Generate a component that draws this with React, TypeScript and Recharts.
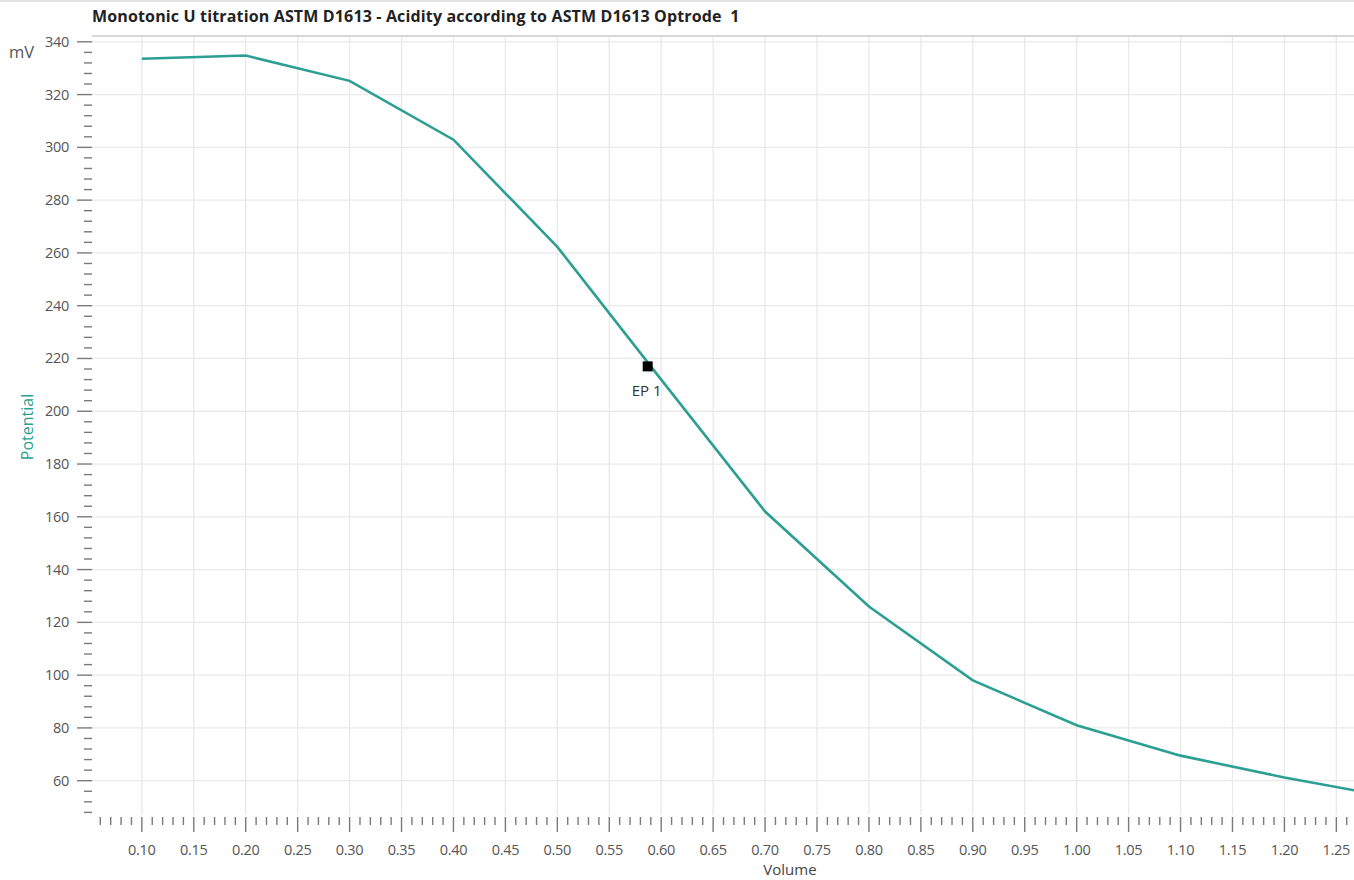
import React from 'react';
import { LineChart, Line, XAxis, YAxis, CartesianGrid, ReferenceDot, ReferenceLine, Label } from 'recharts';

const volume = [0.1, 0.2, 0.3, 0.4, 0.5, 0.6, 0.7, 0.8, 0.9, 1.0, 1.1, 1.2, 1.3];
const potential = [333.6, 334.8, 325.2, 302.9, 262.3, 212.0, 162.0, 126.0, 98.0, 81.0, 69.5, 61.2, 54.0];

const endpointVolume = 0.587;
const endpointPotential = 217;

const xMajor = [0.1, 0.15, 0.2, 0.25, 0.3, 0.35, 0.4, 0.45, 0.5, 0.55, 0.6, 0.65, 0.7, 0.75, 0.8, 0.85, 0.9, 0.95, 1.0, 1.05, 1.1, 1.15, 1.2, 1.25];
const yMajor = [60, 80, 100, 120, 140, 160, 180, 200, 220, 240, 260, 280, 300, 320, 340];

const X_DOMAIN: [number, number] = [0.052, 1.267];
const Y_DOMAIN: [number, number] = [47, 342.2];

// minor ticks: every 0.01 on volume, every 4 mV on potential
const xMinor: number[] = [];
for (let i = 6; i <= 126; i++) xMinor.push(i / 100);
const yMinor: number[] = [];
for (let v = 48; v <= 340; v += 4) yMinor.push(v);

const data = volume.map((v, i) => ({ volume: v, potential: potential[i] }));

const TEAL = '#2c9f93';
const FONT = '"Open Sans", "Noto Sans", sans-serif';

const isMajor = (v: number, step: number) => Math.abs(v / step - Math.round(v / step)) < 1e-6;

const XTick = (props: any) => {
  const { x, y, payload } = props;
  const v = payload.value as number;
  const major = isMajor(v, 0.05);
  return (
    <g>
      <line x1={x} x2={x} y1={y + 2} y2={y + (major ? 17 : 10)} stroke="#7a7a7a" strokeWidth={1.4} />
      {major && (
        <text x={x} y={y + 40} textAnchor="middle" fontSize={14.5} fill="#555" fontFamily={FONT} letterSpacing={-0.3}>
          {v.toFixed(2)}
        </text>
      )}
    </g>
  );
};

const YTick = (props: any) => {
  const { x, y, payload } = props;
  const v = payload.value as number;
  const major = isMajor(v, 20);
  return (
    <g>
      <line x1={x - (major ? 15 : 8)} x2={x} y1={y} y2={y} stroke="#7a7a7a" strokeWidth={1.4} />
      {major && (
        <text x={x - 23} y={y + 5} textAnchor="end" fontSize={14.5} fill="#555" fontFamily={FONT} letterSpacing={-0.3}>
          {v}
        </text>
      )}
    </g>
  );
};

const EndpointMark = (props: any) => {
  const { cx, cy } = props;
  return (
    <g>
      <rect x={cx - 5} y={cy - 5} width={10} height={10} fill="#000" />
      <text x={cx - 1} y={cy + 30} textAnchor="middle" fontSize={15} fill="#333" fontFamily={FONT}>
        EP 1
      </text>
    </g>
  );
};

export default function App() {
  return (
    <div style={{ position: 'absolute', left: 0, top: 0, width: 1354, height: 880, background: '#fff', overflow: 'hidden' }}>
      <div style={{ position: 'absolute', left: 0, top: 0, width: 1354, height: 2, background: '#e4e4e4' }} />
      <div
        style={{
          position: 'absolute',
          left: 92,
          top: 5,
          fontFamily: FONT,
          fontWeight: 700,
          fontSize: 16,
          color: '#222',
          whiteSpace: 'pre',
          letterSpacing: 0.15,
        }}
      >
        {'Monotonic U titration ASTM D1613 - Acidity according to ASTM D1613 Optrode  1'}
      </div>
      <LineChart width={1354} height={880} data={data} margin={{ top: 36, right: 0, bottom: 0, left: 0 }}>
        <CartesianGrid stroke="#e9e9e9" strokeWidth={1.3} horizontalValues={yMajor} verticalValues={xMajor} />
        <ReferenceLine y={Y_DOMAIN[1]} stroke="#d6d6d6" strokeWidth={2} />
        <XAxis
          dataKey="volume"
          type="number"
          domain={X_DOMAIN}
          allowDataOverflow
          ticks={xMinor}
          interval={0}
          tick={<XTick />}
          tickLine={false}
          axisLine={false}
          tickSize={0}
          tickMargin={0}
          height={65}
        >
          <Label
            content={() => (
              <text x={790} y={875} textAnchor="middle" fontSize={15} fill="#444" fontFamily={FONT}>
                Volume
              </text>
            )}
          />
        </XAxis>
        <YAxis
          type="number"
          domain={Y_DOMAIN}
          allowDataOverflow
          ticks={yMinor}
          interval={0}
          tick={<YTick />}
          tickLine={false}
          axisLine={false}
          tickSize={0}
          tickMargin={0}
          width={92}
        >
          <Label
            content={() => (
              <g>
                <text x={33} y={427} transform="rotate(-90 33 427)" textAnchor="middle" fontSize={16} fill={TEAL} fontFamily={FONT}>
                  Potential
                </text>
                <text x={9} y={58} fontSize={16.5} fill="#555" fontFamily={FONT}>
                  mV
                </text>
              </g>
            )}
          />
        </YAxis>
        <Line
          type="linear"
          dataKey="potential"
          stroke={TEAL}
          strokeWidth={2.6}
          dot={false}
          activeDot={false}
          isAnimationActive={false}
        />
        <ReferenceDot x={endpointVolume} y={endpointPotential} shape={<EndpointMark />} />
      </LineChart>
    </div>
  );
}
